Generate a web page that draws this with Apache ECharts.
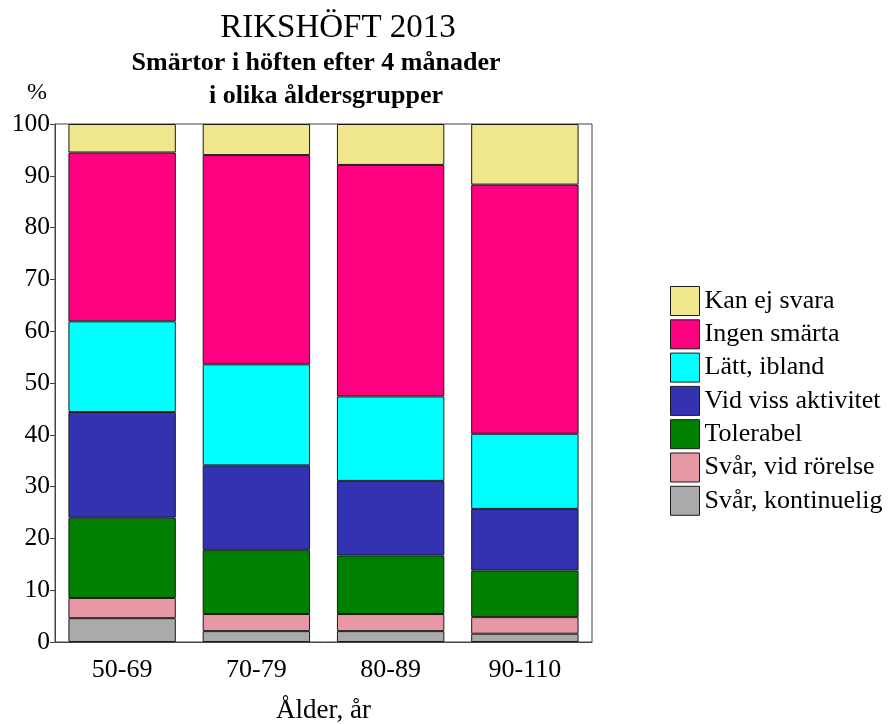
<!DOCTYPE html>
<html>
<head>
<meta charset="utf-8">
<script src="https://cdn.jsdelivr.net/npm/echarts@6/dist/echarts.min.js"></script>
<style>
html,body{margin:0;padding:0;background:#fff;}
#chart{width:888px;height:724px;}
</style>
</head>
<body>
<div id="chart"></div>
<script>
var categories = ['50-69', '70-79', '80-89', '90-110'];
var seriesNames = ['Svår, kontinuelig', 'Svår, vid rörelse', 'Tolerabel', 'Vid viss aktivitet', 'Lätt, ibland', 'Ingen smärta', 'Kan ej svara'];
var svarKontinuelig = [4.6, 2.1, 2.1, 1.6];
var svarVidRorelse = [3.9, 3.3, 3.3, 3.2];
var tolerabel = [15.5, 12.4, 11.3, 9.0];
var vidVissAktivitet = [20.4, 16.3, 14.4, 11.9];
var lattIbland = [17.5, 19.5, 16.3, 14.5];
var ingenSmarta = [32.6, 40.4, 44.7, 48.1];
var kanEjSvara = [5.5, 6.0, 7.9, 11.7];
var yTicks = [0, 10, 20, 30, 40, 50, 60, 70, 80, 90, 100];

var seriesValues = [svarKontinuelig, svarVidRorelse, tolerabel, vidVissAktivitet, lattIbland, ingenSmarta, kanEjSvara];
var colors = ['#AAAAAA', '#E698A5', '#008000', '#3333B2', '#00FFFF', '#FF0080', '#F0E68C'];
var FONT = 'Liberation Serif';

var chart = echarts.init(document.getElementById('chart'), null, {renderer: 'canvas'});
var series = seriesNames.map(function (n, i) {
  return {
    name: n,
    type: 'bar',
    stack: 'total',
    barCategoryGap: '20%',
    data: seriesValues[i],
    itemStyle: {color: colors[i], borderColor: '#1a1a1a', borderWidth: 1},
    emphasis: {disabled: true}
  };
});

chart.setOption({
  animation: false,
  backgroundColor: '#fff',
  title: [
    {text: 'RIKSHÖFT 2013', left: 333, top: 7, textAlign: 'center',
     textStyle: {fontFamily: FONT, fontSize: 33, fontWeight: 'normal', color: '#000'}},
    {text: 'Smärtor i höften efter 4 månader', left: 311, top: 45, textAlign: 'center',
     textStyle: {fontFamily: FONT, fontSize: 26, fontWeight: 'bold', color: '#000'}},
    {text: 'i olika åldersgrupper', left: 321, top: 78, textAlign: 'center',
     textStyle: {fontFamily: FONT, fontSize: 26, fontWeight: 'bold', color: '#000'}}
  ],
  legend: {
    orient: 'vertical',
    left: 665,
    top: 281,
    itemWidth: 29,
    itemHeight: 29,
    itemGap: 3.3,
    icon: 'rect',
    data: seriesNames.slice().reverse(),
    textStyle: {fontFamily: FONT, fontSize: 26, color: '#000'},
    itemStyle: {borderColor: '#1a1a1a', borderWidth: 1}
  },
  grid: {
    left: 55, right: 296, top: 124, bottom: 82,
    show: true, borderColor: '#444', borderWidth: 1,
    containLabel: false, outerBoundsMode: 'none'
  },
  xAxis: {
    type: 'category',
    data: categories,
    name: 'Ålder, år',
    nameLocation: 'middle',
    nameGap: 55,
    nameTextStyle: {fontFamily: FONT, fontSize: 27, color: '#000'},
    axisLine: {lineStyle: {color: '#444'}},
    axisTick: {show: false},
    axisLabel: {fontFamily: FONT, fontSize: 26, color: '#000', margin: 15}
  },
  yAxis: {
    type: 'value',
    min: 0, max: 100, interval: 10,
    name: '%',
    nameLocation: 'end',
    nameGap: 19,
    nameTextStyle: {fontFamily: FONT, fontSize: 24, color: '#000', align: 'center', padding: [0, 36, 0, 0]},
    axisLine: {show: true, lineStyle: {color: '#444'}},
    axisTick: {show: true, length: 5, lineStyle: {color: '#444'}},
    splitLine: {show: false},
    axisLabel: {fontFamily: FONT, fontSize: 25.5, color: '#000', margin: 5,
      formatter: function (v) { return yTicks.indexOf(v) >= 0 ? String(v) : ''; }}
  },
  series: series
});
</script>
</body>
</html>
